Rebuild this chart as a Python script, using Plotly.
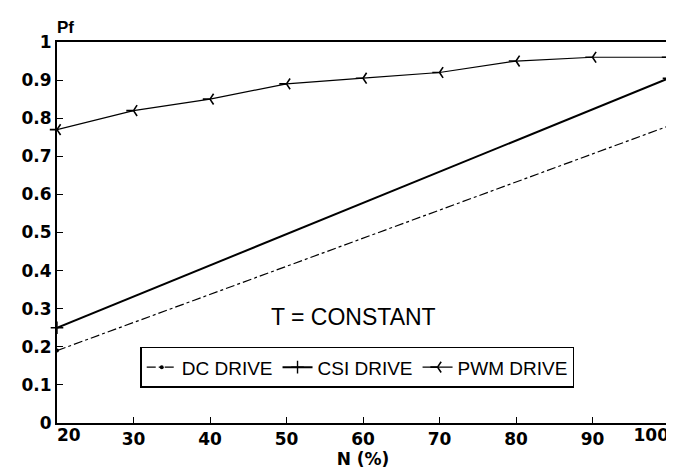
import plotly.graph_objects as go

# straight-line series: read at their end points
line_n = [20, 100]
dc_drive = [0.19, 0.78]
csi_drive = [0.25, 0.905]

# PWM drive read at each marker
pwm_n = [20, 30, 40, 50, 60, 70, 80, 90, 100]
pwm_drive = [0.77, 0.82, 0.85, 0.89, 0.905, 0.92, 0.95, 0.96, 0.96]

x_range = [20, 100]
x_ticks = [20, 30, 40, 50, 60, 70, 80, 90, 100]
x_labels = ["", "30", "40", "50", "60", "70", "80", "90", ""]
x_first_tick = [20]
x_last_tick = [100]
y_ticks = [0, 0.1, 0.2, 0.3, 0.4, 0.5, 0.6, 0.7, 0.8, 0.9, 1]
y_labels = ["0", "0.1", "0.2", "0.3", "0.4", "0.5", "0.6", "0.7", "0.8", "0.9", "1"]

TICK_FONT = dict(family="DejaVu Sans", size=17, color="black", weight="bold")

fig = go.Figure()
# DC and CSI are drawn on overlay x axes that share the main axis range;
# those overlay axes carry the end tick labels (20 and 100).
fig.add_trace(go.Scatter(
    x=line_n, y=dc_drive, name="DC DRIVE", mode="lines+markers",
    xaxis="x2", yaxis="y",
    line=dict(color="black", width=1.2, dash="dashdot"),
    marker=dict(symbol="circle", size=4, color="black"),
    cliponaxis=False))
fig.add_trace(go.Scatter(
    x=line_n, y=csi_drive, name="CSI DRIVE", mode="lines+markers",
    xaxis="x3", yaxis="y",
    line=dict(color="black", width=2),
    marker=dict(symbol="cross-thin", size=9, line=dict(color="black", width=1.4)),
    cliponaxis=False))
fig.add_trace(go.Scatter(
    x=pwm_n, y=pwm_drive, name="PWM DRIVE", mode="lines+markers",
    line=dict(color="black", width=1.2),
    marker=dict(symbol="y-left", size=9, line=dict(color="black", width=1.6)),
    cliponaxis=False))

fig.add_annotation(x=58.8, y=0.278, xref="x", yref="y", text="T = CONSTANT",
                   showarrow=False,
                   font=dict(family="Liberation Sans, sans-serif", size=23, color="black"))
fig.add_annotation(x=-0.003, y=1, xref="paper", yref="paper", text="Pf",
                   showarrow=False, xanchor="left", yanchor="bottom", yshift=3,
                   font=dict(family="Liberation Sans", size=17, color="black", weight="bold"))

edge_axis = dict(overlaying="x", anchor="y", side="bottom", range=x_range,
                 showline=False, ticks="", showgrid=False, zeroline=False,
                 automargin=False, tickfont=TICK_FONT)

fig.update_layout(
    width=674, height=469,
    margin=dict(l=49, r=13, t=34, b=54, autoexpand=False),
    paper_bgcolor="white", plot_bgcolor="white",
    font=dict(family="Liberation Sans, Arial", size=16, color="black"),
    showlegend=True,
    legend=dict(orientation="h", x=0.136, y=0.2, xanchor="left", yanchor="top",
                bordercolor="black", borderwidth=1.5, bgcolor="white",
                font=dict(family="Liberation Sans", size=19), itemwidth=30,
                tracegroupgap=0, valign="middle"),
    xaxis=dict(range=x_range, tickvals=x_ticks, ticktext=x_labels, ticks="inside",
               ticklen=6, tickcolor="black", showline=True, linecolor="black",
               linewidth=2, mirror=True, showgrid=False, zeroline=False,
               automargin=False,
               title=dict(text="N (%)", standoff=4,
                          font=dict(family="DejaVu Sans", size=17, weight="bold")),
               tickfont=TICK_FONT),
    xaxis2=dict(edge_axis, tickvals=x_first_tick, ticktext=[str(v) for v in x_first_tick],
                ticklabelposition="outside right"),
    xaxis3=dict(edge_axis, tickvals=x_last_tick, ticktext=[str(v) for v in x_last_tick],
                ticklabelposition="outside left"),
    yaxis=dict(range=[0, 1], tickvals=y_ticks, ticktext=y_labels, ticks="inside",
               ticklen=6, tickcolor="black", showline=True, linecolor="black",
               linewidth=2, mirror=True, showgrid=False, zeroline=False,
               automargin=False, tickfont=TICK_FONT),
)

fig.write_html("out.html")
